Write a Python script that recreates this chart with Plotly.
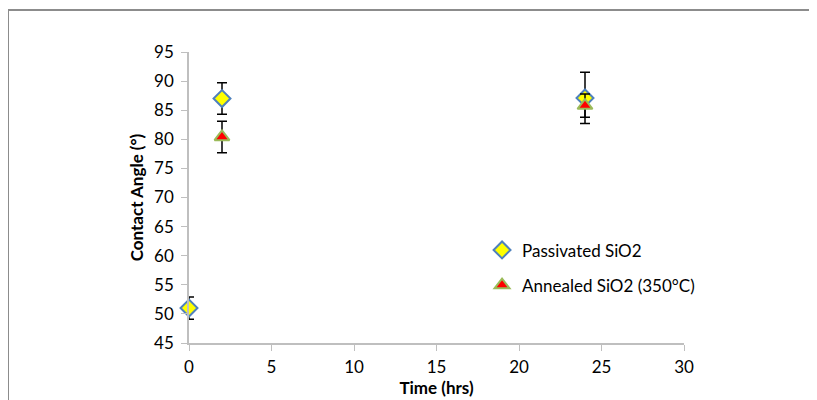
import plotly.graph_objects as go

# Data
time_passivated = [0, 2, 24]
angle_passivated = [51.0, 87.0, 87.1]
err_passivated = [1.9, 2.7, 4.4]

time_annealed = [2, 24]
angle_annealed = [80.4, 85.8]
err_annealed = [2.7, 2.0]

x_ticks = [0, 5, 10, 15, 20, 25, 30]
y_ticks = [45, 50, 55, 60, 65, 70, 75, 80, 85, 90, 95]

FONT = "Lato, Carlito, 'Liberation Sans', sans-serif"

fig = go.Figure()
fig.add_trace(go.Scatter(
    x=time_passivated, y=angle_passivated, mode="markers",
    name="Passivated SiO2", legendgroup="a", cliponaxis=False,
    marker=dict(symbol="diamond", size=13, color="#ffff00",
                line=dict(color="#4f81bd", width=2)),
    error_y=dict(type="data", array=err_passivated, visible=True,
                 color="#000000", thickness=1.5, width=5),
))
fig.add_trace(go.Scatter(
    x=time_annealed, y=angle_annealed, mode="markers",
    name="Annealed SiO2 (350°C)", legendgroup="b", cliponaxis=False,
    marker=dict(symbol="triangle-up", size=13, color="#ff0000",
                line=dict(color="#9bbb59", width=2)),
    error_y=dict(type="data", array=err_annealed, visible=True,
                 color="#000000", thickness=1.5, width=5),
))

# page is offset by the 8px body margin, compensate
W, H = 817, 400
L, T = 181, 44
pw, ph = 495, 291
R, B = W - L - pw, H - T - ph

fig.update_layout(
    width=W, height=H,
    margin=dict(l=L, r=R, t=T, b=B, autoexpand=False),
    paper_bgcolor="white", plot_bgcolor="white",
    font=dict(family=FONT, size=15, color="#000000"),
    showlegend=True,
    legend=dict(x=0.592, y=0.38, xanchor="left", yanchor="top",
                font=dict(family=FONT, size=17, color="#000000"),
                bgcolor="rgba(0,0,0,0)", tracegroupgap=10,
                itemwidth=30),
    xaxis=dict(range=[0, 30], tickvals=x_ticks, showgrid=False, zeroline=False,
               showline=True, linecolor="#bfbfbf", linewidth=1.5,
               ticks="outside", ticklen=6, tickcolor="#bfbfbf",
               ticklabelstandoff=2,
               tickfont=dict(family=FONT, size=17, color="#000000"),
               title=dict(text="<b>Time (hrs)</b>", standoff=4,
                          font=dict(family=FONT, size=17, color="#000000"))),
    yaxis=dict(range=[45, 95], tickvals=y_ticks, showgrid=False, zeroline=False,
               showline=True, linecolor="#bfbfbf", linewidth=1.5,
               ticks="outside", ticklen=6, tickcolor="#bfbfbf",
               ticklabelstandoff=4,
               tickfont=dict(family=FONT, size=17, color="#000000"),
               title=dict(text="<b>Contact Angle (°)</b>", standoff=6,
                          font=dict(family=FONT, size=17, color="#000000"))),
)

# Outer chart border (top and left edges visible)
def px_x(p):
    return (p - L) / pw

def px_y(p):
    return (T + ph - p) / ph

fig.add_shape(type="line", xref="paper", yref="paper",
              x0=px_x(0), x1=px_x(830), y0=px_y(2), y1=px_y(2),
              line=dict(color="#8c8c8c", width=2))
fig.add_shape(type="line", xref="paper", yref="paper",
              x0=px_x(0), x1=px_x(0), y0=px_y(2), y1=px_y(410),
              line=dict(color="#8c8c8c", width=2))

fig.write_html("out.html")
